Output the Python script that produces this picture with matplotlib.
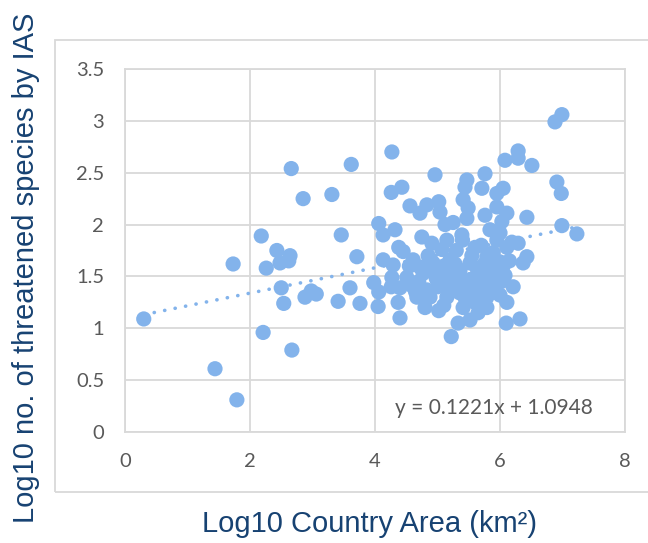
import matplotlib
matplotlib.use("Agg")
import matplotlib.pyplot as plt
from matplotlib.patches import Rectangle

# Log10 country area (x) and Log10 no. of threatened species by IAS (y)
area = [0.30, 1.73, 1.44, 1.79, 2.21, 2.67, 2.18, 2.43, 2.64, 2.62, 2.48, 2.26, 2.50, 2.54,
        2.88, 2.98, 3.06, 3.41, 3.60, 3.76, 3.71, 3.46, 2.66, 2.85, 3.31, 3.62, 4.27, 4.26,
        4.06, 4.13, 4.32, 4.13, 3.98, 4.05, 4.40, 4.26, 4.37, 4.06,
        6.99, 6.88, 4.96, 6.08, 6.29, 6.29, 6.51, 6.91, 6.98, 6.99, 7.23, 6.43, 4.43, 4.56,
        4.72, 4.83, 5.02, 5.04, 5.47, 5.44, 5.76, 5.71, 6.05, 5.95, 5.41, 5.49, 5.47, 5.76,
        5.95, 6.11, 6.03, 4.75, 5.12, 5.25, 5.39, 5.84, 6.00, 6.29, 6.43, 6.37, 4.38, 4.45,
        6.19, 4.29, 4.61, 4.91, 5.07, 5.15, 5.60, 5.89, 6.11, 4.72, 4.93, 5.20, 5.52, 5.79,
        6.00, 4.51, 4.77, 5.04, 5.36, 5.63, 5.87, 4.27, 4.40, 4.61, 4.83, 5.09, 5.31, 5.52,
        5.73, 5.89, 6.08, 4.67, 4.88, 5.15, 5.36, 5.57, 5.79, 6.00, 6.21, 6.11, 5.02, 5.41,
        5.79, 5.52, 5.33, 6.10, 6.32, 5.22,
        4.55, 4.70, 4.85, 5.00, 5.10, 5.25, 5.30, 5.45, 5.55, 5.65, 5.70, 5.85, 5.95, 6.05,
        6.15, 5.20, 4.95, 5.60, 5.40, 5.75, 4.80, 5.10, 5.65, 5.90,
        5.35, 5.50, 5.68, 5.82, 4.98, 5.28, 5.58, 5.92, 6.02, 5.15, 4.65, 5.45]
threat = [1.09, 1.62, 0.61, 0.31, 0.96, 0.79, 1.89, 1.75, 1.70, 1.65, 1.63, 1.58, 1.39, 1.24,
          1.30, 1.36, 1.33, 1.26, 1.39, 1.24, 1.69, 1.90, 2.54, 2.25, 2.29, 2.58, 2.70, 2.31,
          2.01, 1.90, 1.95, 1.66, 1.44, 1.21, 1.10, 1.40, 1.25, 1.35,
          3.06, 2.99, 2.48, 2.62, 2.71, 2.64, 2.57, 2.41, 2.30, 1.99, 1.91, 2.07, 2.36, 2.18,
          2.11, 2.19, 2.22, 2.12, 2.43, 2.36, 2.49, 2.35, 2.35, 2.30, 2.24, 2.16, 2.06, 2.09,
          2.17, 2.11, 2.03, 1.88, 2.00, 2.02, 1.90, 1.95, 1.92, 1.82, 1.69, 1.63, 1.78, 1.74,
          1.83, 1.61, 1.66, 1.82, 1.76, 1.85, 1.78, 1.73, 1.78, 1.59, 1.63, 1.66, 1.63, 1.69,
          1.64, 1.49, 1.53, 1.54, 1.56, 1.58, 1.59, 1.49, 1.39, 1.40, 1.37, 1.47, 1.44, 1.47,
          1.49, 1.44, 1.51, 1.30, 1.30, 1.30, 1.34, 1.32, 1.30, 1.32, 1.40, 1.25, 1.17, 1.20,
          1.20, 1.08, 1.05, 1.05, 1.09, 0.92,
          1.60, 1.45, 1.70, 1.40, 1.60, 1.50, 1.75, 1.45, 1.70, 1.40, 1.80, 1.50, 1.85, 1.60,
          1.65, 1.35, 1.55, 1.25, 1.85, 1.62, 1.20, 1.22, 1.15, 1.35,
          1.52, 1.38, 1.55, 1.42, 1.48, 1.62, 1.36, 1.55, 1.45, 1.42, 1.35, 1.28]

# Trendline coefficients shown on the chart
slope = 0.1221
intercept = 1.0948
equation = "y = 0.1221x + 1.0948"

x_ticks = [0, 2, 4, 6, 8]
y_ticks = [0, 0.5, 1, 1.5, 2, 2.5, 3, 3.5]
y_tick_labels = ["0", "0.5", "1", "1.5", "2", "2.5", "3", "3.5"]

point_color = "#83B3EB"
grid_color = "#D9D9D9"
tick_color = "#595959"
label_color = "#174272"

fig = plt.figure(figsize=(6.48, 5.43), dpi=100)
fig.patches.append(Rectangle((55 / 648, 51 / 543), 1.2, 452 / 543, transform=fig.transFigure,
                             fill=False, edgecolor=grid_color, linewidth=1.3, zorder=0))
ax = fig.add_axes([125 / 648, 111 / 543, 500 / 648, 363 / 543])

ax.scatter(area, threat, s=120, color=point_color, edgecolors="none", zorder=3)

xmin, xmax = min(area), max(area)
ax.plot([xmin, xmax], [slope * xmin + intercept, slope * xmax + intercept],
        color=point_color, linewidth=2.6, linestyle=(0, (0.05, 2.9)),
        dash_capstyle="round", zorder=2)

ax.text(5.9, 0.23, equation, ha="center", va="center", fontsize=15,
        color=tick_color, family="Lato", zorder=4)

ax.set_xlim(0, 8)
ax.set_ylim(0, 3.5)
ax.set_xticks(x_ticks)
ax.set_yticks(y_ticks)
ax.set_yticklabels(y_tick_labels)
ax.grid(True, color=grid_color, linewidth=1.3, zorder=0)
ax.set_axisbelow(True)
for sp in ax.spines.values():
    sp.set_color(grid_color)
    sp.set_linewidth(1.3)
ax.tick_params(length=0, pad=15, labelsize=14.5, labelcolor=tick_color)
for lab in ax.get_xticklabels() + ax.get_yticklabels():
    lab.set_family("Lato")

fig.text(369 / 648, 1 - 524 / 543, "Log10 Country Area (km\u00b2)", ha="center", va="center",
         fontsize=21, color=label_color, family="Liberation Sans")
fig.text(26 / 648, 1 - 268 / 543, "Log10 no. of threatened species by IAS", ha="center",
         va="center", rotation=90, fontsize=21, color=label_color, family="Liberation Sans")

fig.savefig("out.png", dpi=100)
